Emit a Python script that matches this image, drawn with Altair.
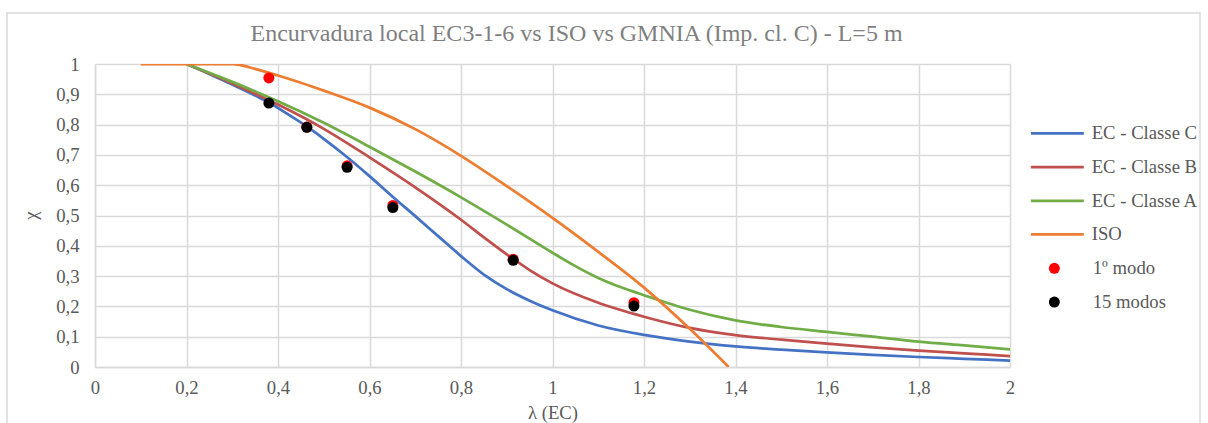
import altair as alt
import pandas as pd

# ---- data ----
series_names = ["EC - Classe C", "EC - Classe B", "EC - Classe A", "ISO"]
series_colors = ["#4472C4", "#C0504D", "#70AD47", "#ED7D31"]

lam_c = [0.2, 0.25, 0.3, 0.35, 0.38, 0.42, 0.463, 0.5, 0.55, 0.6, 0.65, 0.7, 0.75, 0.8, 0.85, 0.9, 0.95, 1.0,
         1.1, 1.2, 1.3, 1.4, 1.5, 1.6, 1.7, 1.8, 1.9, 2.0]
chi_c = [1.0, 0.967, 0.932, 0.896, 0.873, 0.836, 0.794, 0.753, 0.694, 0.630, 0.563, 0.498, 0.432, 0.366, 0.305,
         0.257, 0.219, 0.187, 0.137, 0.106, 0.084, 0.068, 0.057, 0.048, 0.040, 0.033, 0.027, 0.021]

lam_b = [0.2, 0.3, 0.4, 0.5, 0.6, 0.7, 0.8, 0.85, 0.9, 0.95, 1.0,
         1.1, 1.2, 1.3, 1.4, 1.5, 1.6, 1.7, 1.8, 1.9, 2.0]
chi_b = [1.0, 0.936, 0.866, 0.786, 0.692, 0.593, 0.486, 0.428, 0.372, 0.320, 0.276,
         0.212, 0.166, 0.129, 0.105, 0.090, 0.077, 0.065, 0.054, 0.045, 0.036]

lam_a = [0.2, 0.3, 0.4, 0.5, 0.6, 0.7, 0.8, 0.9, 1.0, 1.05,
         1.1, 1.15, 1.2, 1.3, 1.4, 1.5, 1.6, 1.7, 1.8, 1.9, 2.0]
chi_a = [1.0, 0.941, 0.877, 0.806, 0.727, 0.645, 0.560, 0.470, 0.377, 0.333,
         0.294, 0.263, 0.237, 0.189, 0.154, 0.132, 0.116, 0.100, 0.084, 0.071, 0.058]

lam_iso = [0.1, 0.2, 0.3, 0.35, 0.4, 0.45, 0.5, 0.6, 0.7, 0.8, 0.9, 1.0, 1.1, 1.2, 1.3, 1.385]
chi_iso = [1.0, 1.0, 1.0, 0.984, 0.962, 0.938, 0.912, 0.856, 0.785, 0.697, 0.597, 0.492, 0.380, 0.262, 0.126, 0.0]

point_names = ["1º modo", "15 modos"]
point_colors = ["#FF0000", "#000000"]
lam_pts = [0.380, 0.463, 0.551, 0.651, 0.914, 1.178]
chi_1modo = [0.954, 0.792, 0.664, 0.533, 0.356, 0.212]
chi_15modos = [0.871, 0.791, 0.659, 0.526, 0.352, 0.201]

x_ticks = [0, 0.2, 0.4, 0.6, 0.8, 1.0, 1.2, 1.4, 1.6, 1.8, 2.0]
y_ticks = [0, 0.1, 0.2, 0.3, 0.4, 0.5, 0.6, 0.7, 0.8, 0.9, 1.0]

title_text = "Encurvadura local EC3-1-6 vs ISO vs GMNIA (Imp. cl. C) - L=5 m"

# ---- tables ----
curves = [(lam_c, chi_c), (lam_b, chi_b), (lam_a, chi_a), (lam_iso, chi_iso)]
line_rows = []
for name, (lx, ly) in zip(series_names, curves):
    for a, b in zip(lx, ly):
        line_rows.append({"lam": a, "chi": b, "serie": name})
lines_df = pd.DataFrame(line_rows)

pt_rows = []
for name, vals in zip(point_names, [chi_1modo, chi_15modos]):
    for a, b in zip(lam_pts, vals):
        pt_rows.append({"lam": a, "chi": b, "serie": name})
pts_df = pd.DataFrame(pt_rows)

FONT = "Liberation Serif"
GRID = "#D9D9D9"
TXT = "#595959"

x_enc = alt.X("lam:Q", scale=alt.Scale(domain=[0, 2], nice=False),
              axis=alt.Axis(values=x_ticks, title="λ (EC)", format="~g",
                            labelExpr="replace(datum.label, '.', ',')",
                            ticks=False, labelPadding=11, titlePadding=7,
                            labelFont=FONT, labelFontSize=18.7, labelColor=TXT,
                            titleFont=FONT, titleFontSize=18.7, titleColor=TXT, titleFontWeight="normal",
                            gridColor=GRID, gridWidth=1.5, domainColor=GRID, domainWidth=1.5,
                            labelFlush=False))
y_enc = alt.Y("chi:Q", scale=alt.Scale(domain=[0, 1], nice=False),
              axis=alt.Axis(values=y_ticks, title="χ", format="~g",
                            labelExpr="replace(datum.label, '.', ',')",
                            ticks=False, labelPadding=16,
                            labelFont=FONT, labelFontSize=18.7, labelColor=TXT,
                            titleFont=FONT, titleFontSize=18.7, titleColor=TXT, titleFontWeight="normal",
                            titleX=-65, titleY=151, titleAlign="center", titleBaseline="middle",
                            gridColor=GRID, gridWidth=1.5, domainColor=GRID, domainWidth=1.5,
                            labelFlush=False))

color_enc = alt.Color("serie:N",
                      scale=alt.Scale(domain=series_names, range=series_colors),
                      legend=alt.Legend(orient="none", legendX=953, legendY=60, title=None,
                                        symbolType="M-5,0H5", symbolSize=112, symbolStrokeWidth=2.75,
                                        labelFont=FONT, labelFontSize=18.7, labelColor=TXT,
                                        labelOffset=25, rowPadding=13.7, padding=0))

layers = []
# frame around the whole chart
frame = alt.Chart(pd.DataFrame({"k": [0]})).mark_rect(
    fill="white", fillOpacity=0, stroke=GRID, strokeWidth=1.5
).encode(x=alt.value(-88), x2=alt.value(1105), y=alt.value(-51), y2=alt.value(400))
layers.append(frame)

for name in series_names:
    layers.append(
        alt.Chart(lines_df).transform_filter(alt.datum.serie == name)
        .mark_line(strokeWidth=2.75, interpolate="monotone", clip=True)
        .encode(x=x_enc, y=y_enc, color=color_enc)
    )

points = alt.Chart(pts_df).mark_circle(size=121, opacity=1).encode(
    x=x_enc, y=y_enc,
    fill=alt.Fill("serie:N", scale=alt.Scale(domain=point_names, range=point_colors),
                  legend=alt.Legend(orient="none", legendX=950, legendY=195, title=None,
                                    symbolType="circle", symbolSize=121, symbolOpacity=1,
                                    labelFont=FONT, labelFontSize=18.7, labelColor=TXT,
                                    labelOffset=29, rowPadding=13.7, padding=0)),
    order=alt.Order("ord:Q")
).transform_calculate(ord="datum.serie == '1º modo' ? 0 : 1")
layers.append(points)

chart = alt.layer(*layers).properties(
    width=915, height=303,
    padding={"left": 95, "top": 64, "right": 198, "bottom": 56},
    autosize=alt.AutoSizeParams(type="none"),
    title=alt.Title(title_text, font=FONT, fontSize=24, fontWeight="normal", color="#7F7F7F",
                    anchor="middle", dx=24, offset=-34),
    background="white",
).resolve_scale(color="shared").configure_view(strokeWidth=0)

chart.save("out.html", embed_options={"renderer": "svg", "actions": False})
